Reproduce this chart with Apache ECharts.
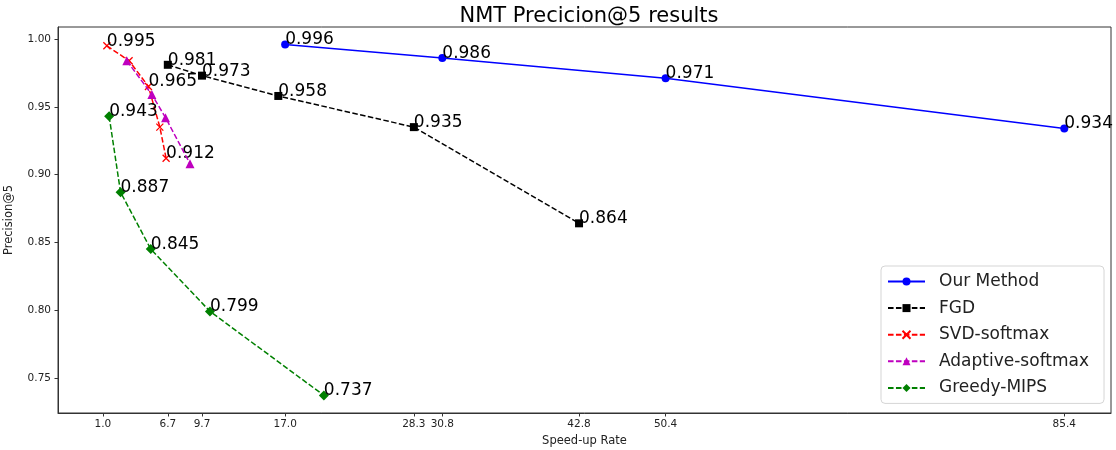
<!DOCTYPE html>
<html>
<head>
<meta charset="utf-8">
<script src="https://cdn.jsdelivr.net/npm/echarts@6/dist/echarts.min.js"></script>
<style>
html,body{margin:0;padding:0;background:#fff;}
#chart{width:1116px;height:450px;}
</style>
</head>
<body>
<div id="chart"></div>
<script>
// ---- data ----
const xTicks = [1.0, 6.7, 9.7, 17.0, 28.3, 30.8, 42.8, 50.4, 85.4];
const yTicks = [0.75, 0.80, 0.85, 0.90, 0.95, 1.00];

const ourX = [17.0, 30.8, 50.4, 85.4];
const ourY = [0.996, 0.986, 0.971, 0.934];
const ourLabeled = [true, true, true, true];

const fgdX = [6.7, 9.7, 16.4, 28.3, 42.8];
const fgdY = [0.981, 0.973, 0.958, 0.935, 0.864];
const fgdLabeled = [true, true, true, true, true];

const svdX = [1.35, 3.3, 5.0, 6.0, 6.55];
const svdY = [0.995, 0.984, 0.965, 0.935, 0.912];
const svdLabeled = [true, false, true, false, true];

const adaX = [3.1, 5.3, 6.5, 8.65];
const adaY = [0.984, 0.959, 0.942, 0.908];
const adaLabeled = [false, false, false, false];

const gmX = [1.55, 2.55, 5.2, 10.4, 20.4];
const gmY = [0.943, 0.887, 0.845, 0.799, 0.737];
const gmLabeled = [true, true, true, true, true];

const seriesNames = ['Our Method', 'FGD', 'SVD-softmax', 'Adaptive-softmax', 'Greedy-MIPS'];

// ---- chart ----
const FONT = 'DejaVu Sans';
const dash = [5.55, 2.4];

function pts(xs, ys, labeled) {
  return xs.map((x, i) => ({
    value: [x, ys[i]],
    label: { show: labeled[i] }
  }));
}

const labelCfg = {
  show: true,
  position: 'inside',
  align: 'left',
  verticalAlign: 'bottom',
  offset: [0, 4],
  fontFamily: FONT,
  fontSize: 17,
  color: '#000',
  formatter: p => p.value[1].toFixed(3)
};

function mkSeries(name, xs, ys, labeled, color, symbol, size, dashed, z) {
  return {
    name: name,
    type: 'line',
    data: pts(xs, ys, labeled),
    symbol: symbol,
    symbolSize: size,
    showSymbol: true,
    z: z,
    lineStyle: { color: color, width: 1.5, type: dashed ? dash : 'solid' },
    itemStyle: { color: color, borderColor: color, borderWidth: symbol.startsWith('path') ? 1.3 : 0 },
    label: labelCfg,
    emphasis: { disabled: true },
    animation: false
  };
}

const chart = echarts.init(document.getElementById('chart'), null, { renderer: 'canvas' });
chart.setOption({
  animation: false,
  textStyle: { fontFamily: FONT },
  title: {
    text: 'NMT Precicion@5 results',
    left: 584, top: 1,
    textAlign: 'center',
    textStyle: { fontFamily: FONT, fontSize: 21, fontWeight: 'normal', color: '#000' }
  },
  grid: {
    left: 58, right: 5, top: 27, bottom: 37,
    show: true, borderColor: '#333', borderWidth: 1, backgroundColor: 'transparent',
    containLabel: false,
    outerBoundsMode: 'none'
  },
  legend: {
    data: seriesNames,
    orient: 'vertical',
    left: 881, top: 266,
    itemWidth: 37, itemHeight: 10, itemGap: 9.6,
    padding: [7, 15, 7, 6],
    backgroundColor: '#fff',
    borderColor: '#d5d5d5', borderWidth: 1, borderRadius: 4,
    textStyle: { fontFamily: FONT, fontSize: 17, color: '#222', padding: [0, 0, 0, 9] }
  },
  xAxis: {
    type: 'value',
    min: -2.94, max: 89.5,
    name: 'Speed-up Rate',
    nameLocation: 'middle',
    nameGap: 22,
    nameTextStyle: { fontFamily: FONT, fontSize: 11.5, color: '#222' },
    axisLine: { show: true, onZero: false, lineStyle: { color: '#333', width: 1 } },
    axisTick: { show: true, customValues: xTicks, length: 3.5, lineStyle: { color: '#333' } },
    axisLabel: { show: true, customValues: xTicks, formatter: v => v.toFixed(1), fontFamily: FONT, fontSize: 10.5, color: '#222', margin: 6 },
    splitLine: { show: false }
  },
  yAxis: {
    type: 'value',
    min: 0.724, max: 1.0089,
    name: 'Precision@5',
    nameLocation: 'middle',
    nameGap: 43,
    nameTextStyle: { fontFamily: FONT, fontSize: 11.5, color: '#222' },
    axisLine: { show: true, onZero: false, lineStyle: { color: '#333', width: 1 } },
    axisTick: { show: true, customValues: yTicks, length: 3.5, lineStyle: { color: '#333' } },
    axisLabel: { show: true, customValues: yTicks, formatter: v => v.toFixed(2), fontFamily: FONT, fontSize: 10.5, color: '#222', margin: 7 },
    splitLine: { show: false }
  },
  series: [
    mkSeries(seriesNames[0], ourX, ourY, ourLabeled, '#0000ff', 'circle', 8, false, 2),
    mkSeries(seriesNames[1], fgdX, fgdY, fgdLabeled, '#000000', 'rect', 8, true, 3),
    mkSeries(seriesNames[2], svdX, svdY, svdLabeled, '#ff0000', 'path://M0,0L10,10M10,0L0,10', 7, true, 4),
    mkSeries(seriesNames[3], adaX, adaY, adaLabeled, '#bf00bf', 'triangle', 9, true, 5),
    mkSeries(seriesNames[4], gmX, gmY, gmLabeled, '#008000', 'diamond', 10, true, 6)
  ]
});
</script>
</body>
</html>
